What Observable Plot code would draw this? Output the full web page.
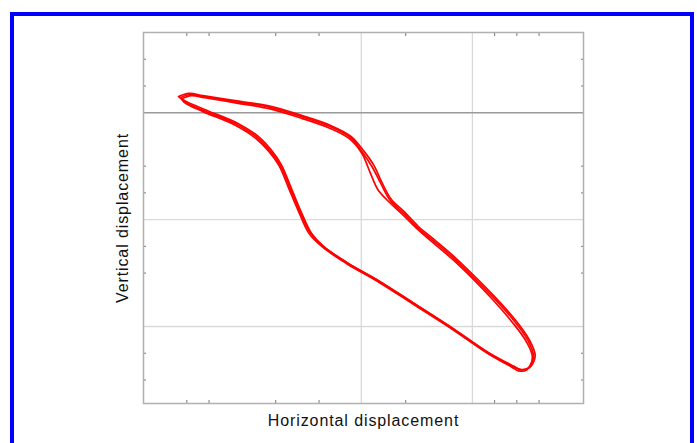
<!DOCTYPE html>
<html><head><meta charset="utf-8">
<script src="https://cdn.jsdelivr.net/npm/d3@7"></script>
<script src="https://cdn.jsdelivr.net/npm/@observablehq/plot@0.6"></script>
<style>
html,body{margin:0;padding:0;background:#fff;}
#wrap{position:relative;width:697px;height:443px;overflow:hidden;}
#border{position:absolute;left:10px;top:12px;width:676px;height:440px;border:4px solid #0000ff;border-bottom:none;}
#chart{position:absolute;left:0;top:0;}
</style></head><body>
<div id="wrap"><div id="border"></div><div id="chart"></div></div>
<script>
const xLabel = "Horizontal displacement";
const yLabel = "Vertical displacement";
const xGrid = [0, 10];
const yGrid = [-10, -20];
const zeroLine = [0];
const xTicks = [-15.7, -13.7, -7.7, -3.8, 4, 12, 14, 16];
const yTicks = [5, 2.5, -5, -7.5, -12.5, -15, -22.5, -25];

const cycle1 = [[-16.3,1.4],[-15.4,1.7],[-14.2,1.5],[-11.2,1.0],[-8.2,0.5],[-5.3,-0.4],[-2.8,-1.3],[-1.0,-2.3],[0.1,-3.7],[1.0,-5.1],[1.7,-6.5],[2.6,-8.2],[3.8,-9.4],[5.0,-10.7],[6.5,-12.0],[8.3,-13.6],[10.1,-15.4],[11.9,-17.3],[13.7,-19.4],[15.0,-21.3],[15.5,-22.8],[15.0,-23.9],
  [14.3,-24.0],[13.7,-23.7],[11.4,-22.4],[8.3,-20.2],[4.7,-17.8],[1.7,-15.8],[-1.3,-14.0],[-3.4,-12.5],[-4.6,-11.2],[-5.5,-9.3],[-6.4,-7.1],[-7.3,-4.9],[-8.2,-3.6],[-9.4,-2.3],[-11.2,-1.1],[-14.2,0.2],[-15.9,1.0],[-16.3,1.4]];
const cycle2 = [[-16.15,1.3],[-15.3,1.6],[-14.1,1.4],[-11.2,0.9],[-8.2,0.35],[-5.3,-0.55],[-2.85,-1.45],[-1.05,-2.45],[0.05,-3.8],[0.8,-5.6],[1.5,-7.2],[2.55,-8.4],[3.75,-9.55],[5.0,-10.85],[6.45,-12.15],[8.25,-13.75],[10.05,-15.55],[11.8,-17.45],[13.55,-19.55],[14.85,-21.4],[15.4,-22.9],[14.9,-24.05],
  [14.15,-24.15],[13.55,-23.8],[11.35,-22.5],[8.25,-20.3],[4.65,-17.9],[1.65,-15.9],[-1.35,-14.1],[-3.45,-12.6],[-4.7,-11.3],[-5.6,-9.35],[-6.5,-7.15],[-7.4,-4.95],[-8.3,-3.65],[-9.5,-2.4],[-11.3,-1.2],[-14.25,0.1],[-15.9,0.95],[-16.15,1.3]];
const cycle3 = [[-16.45,1.5],[-15.5,1.8],[-14.25,1.6],[-11.2,1.1],[-8.15,0.6],[-5.25,-0.3],[-2.75,-1.2],[-0.95,-2.2],[0.2,-3.55],[1.15,-4.95],[1.8,-6.4],[2.7,-8.1],[3.9,-9.3],[5.1,-10.6],[6.6,-11.9],[8.4,-13.5],[10.2,-15.3],[12.0,-17.2],[13.8,-19.3],[15.1,-21.2],[15.65,-22.75],[15.15,-23.85],
  [14.4,-24.05],[13.75,-23.8],[11.45,-22.5],[8.35,-20.3],[4.75,-17.85],[1.75,-15.85],[-1.25,-14.05],[-3.35,-12.55],[-4.5,-11.25],[-5.4,-9.3],[-6.3,-7.05],[-7.2,-4.85],[-8.1,-3.5],[-9.3,-2.2],[-11.1,-1.0],[-14.1,0.3],[-15.85,1.1],[-16.45,1.5]];

const loop = [cycle1, cycle2, cycle3].flatMap((c, i) => c.map(([x, y]) => ({x, y, cycle: i})));

const noText = () => "";
const tickOpts = {tickSize: -3, stroke: "#777", tickFormat: noText, label: null, tickPadding: 0};

const chart = Plot.plot({
  width: 697, height: 443,
  marginLeft: 143, marginRight: 114, marginTop: 32, marginBottom: 40,
  x: {domain: [-19.6, 20]},
  y: {domain: [-27.2, 7.5]},
  style: {background: "transparent", fontFamily: "'Liberation Sans', Arial, sans-serif", color: "#111", letterSpacing: "0.9px"},
  marks: [
    Plot.gridX(xGrid, {stroke: "#d9d9d9", strokeOpacity: 1, strokeWidth: 1.3}),
    Plot.gridY(yGrid, {stroke: "#d9d9d9", strokeOpacity: 1, strokeWidth: 1.3}),
    Plot.ruleY(zeroLine, {stroke: "#9a9a9a", strokeWidth: 1.5}),
    Plot.axisX(xTicks, {anchor: "bottom", ...tickOpts}),
    Plot.axisX(xTicks, {anchor: "top", ...tickOpts}),
    Plot.axisY(yTicks, {anchor: "left", ...tickOpts}),
    Plot.axisY(yTicks, {anchor: "right", ...tickOpts}),
    Plot.frame({stroke: "#b0b0b0", strokeWidth: 1.5}),
    Plot.line(loop, {x: "x", y: "y", z: "cycle", stroke: "#ff0000", strokeWidth: 1.7, curve: "catmull-rom"}),
    Plot.text([xLabel], {frameAnchor: "bottom", dy: 22, fontSize: 16, fill: "#111"}),
    Plot.text([yLabel], {frameAnchor: "left", dx: -21, rotate: -90, textAnchor: "middle", fontSize: 16, fill: "#111"})
  ]
});
document.getElementById("chart").append(chart);
</script>
</body></html>
